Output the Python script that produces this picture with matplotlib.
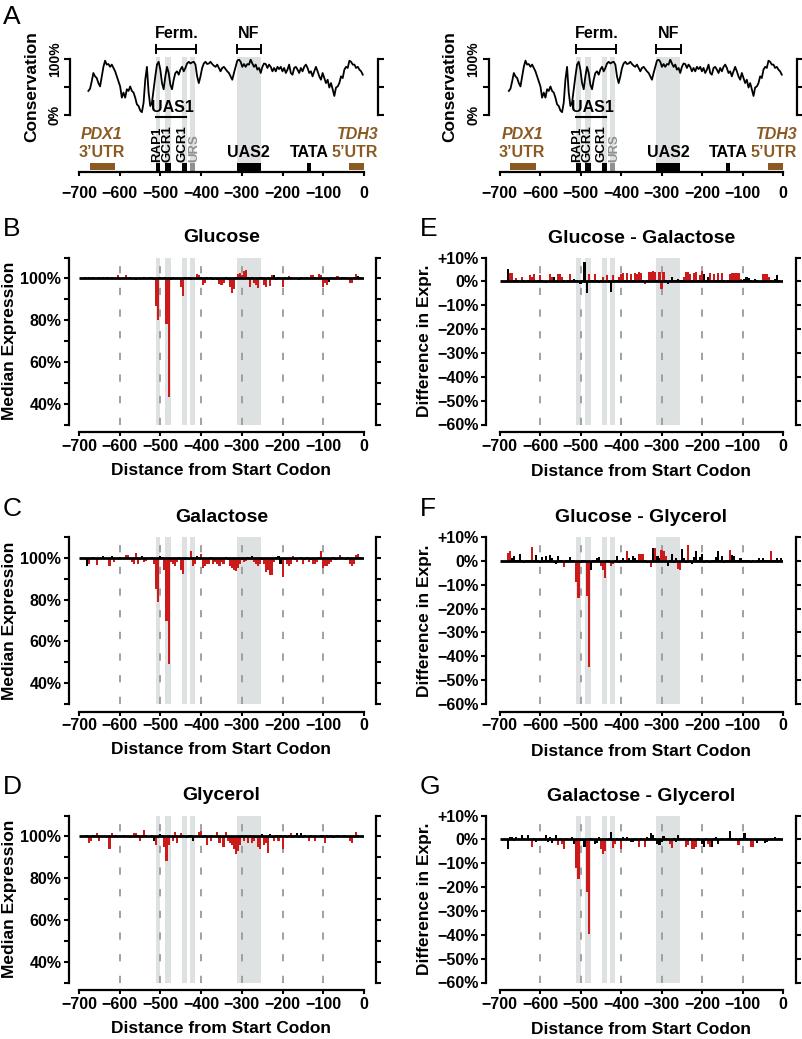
"""
Promoter conservation and mutational scan of expression (panels A-G)
"""
import numpy as np
import matplotlib
matplotlib.use("Agg")
import matplotlib.pyplot as plt
from matplotlib.patches import Rectangle

plt.rcParams['font.family'] = ['Liberation Sans', 'DejaVu Sans']
plt.rcParams['font.weight'] = 'bold'

W, H = 802, 1039
RED = '#cc1a1a'
SHADE = '#dde1e1'
BROWN = '#8b5a22'
URS_GREY = '#8f9090'

# ---------------- data ----------------
positions = np.arange(-700, 0, 5)   # 5 bp windows, -700 ... -5

# % deviation from wild-type median expression (B-D)
glucose = [
    0, 0, 0, 0.5, 0, 0.6, 0, 0.5, 0, 0.4,
    0.5, 0, 0.7, 0, 0.5, 0, 0.6, -0.4, 0, 1.4,
    0, 0.3, 0, 1.5, 0, 0.5, 0, 0.4, -1.0, 0.3,
    0.4, 0, 0.5, 0.3, 0, 0.5, 0.6, -1.0, -13, -20,
    0.8, 0, 0.5, -22, -57, -1.0, 0.5, 0, -0.5, 0.4,
    -4, -8.5, 0.6, 0, 0.5, -0.8, 0.4, 0, 2.3, 1.5,
    0.5, -3.4, -2, 0.5, -0.5, 0.5, -0.8, 0.4, -1, -2.5,
    -3, -2, 0.5, -1, -4, -7, -5, 0.8, 2, 2.5,
    1.5, 3.5, 4, 0.5, -4, 0.6, -2, -3, -4.5, 0.5,
    0.5, -3, -4, 0.5, -3.5, 1.5, 1.5, -1, 0.5, 0.3,
    -4, 0.5, 0, 1, 0.5, 0, 0.4, 0, -1, 0.5,
    0.4, 0, 0.5, 0, 1.5, 1.5, 0.5, 0, 2, 1.5,
    -4, -2, -3, -1.5, 0.5, 0, 0.4, 1.2, 0, 0.5,
    0.5, 0.5, 0, -2, -2, 0.5, 2, 1, 0.6, 0,
]
glucose_sig = ("kkkkkkkkkk" "kkkkkkkkkr" "kkkrkkkkkk" "kkkkkkkkrr" "kkkrrkkkkk"
               "rrkkkkkkrr" "krrkkkkkkr" "rrkkrrrkrr" "rrrkrkrrrk" "krrkrrkkkk"
               "rkkrkkkkkk" "kkkkrrkkrr" "rrrkkkkrkk" "krkrrkrkkk")

galactose = [
    0, 0, 0, 0, -4, -3, 0, 0.5, 0, -3.5,
    0, 0, 1, 0, -0.5, -4, 1, -2, 0, -1,
    0.5, 0, -0.5, 1.5, 1.2, 0, -2, -3, 2.3, -3,
    -1, 1, -2, -1.5, 0, 0, 0.5, -3, -15, -21,
    1, 0.5, -6, -30, -51, -2, -3, -4, -2, 0.5,
    -6, -7.5, -1, 0, -1, 3.5, -4, -3, 1, 0.5,
    2, -5, -4, -3, -3, 0.5, -3, -2, -3, -4,
    -2, -3, 0.3, -1, -4, -5, -6, -6.5, -5, -3,
    -1, -2, -1.5, 0.5, -1, 1, -2, -3, -4, -3,
    -1, -3, -7, -6, -8, -8, -2, 0.5, 1, -3,
    -9, -1, -3, -4, -3, 1, -1, -2, -0.5, 0.5,
    -3, -1, 0.5, -2, -1, -3, -3, -2, 0.5, 3.5,
    -5, -4, -4, -3, -2, 0.5, -1, 0, 1.5, 0.5,
    0, -1, 0.5, -3, -4, -3, 1.5, 2, 0.5, 0,
]
galactose_sig = ("kkkkkrkkkr" "kkkkkrkrkr" "kkkrrkrrrr" "rkrrkkkrrr" "kkrrrrrrrk"
                 "rrkkkrrrkk" "rrrrrkrrrr" "rrkkrrrrrr" "krrkrkrrrr" "krrrrrrkkk"
                 "rkrrrrkrkk" "rkkrkrrrkr" "rrrrrkkkrk" "kkkrrrrrkk")

glycerol = [
    0, 0, 0, 0.4, 0.5, -3, -2, 0.5, 0, 1.5,
    -2, 0, 0.3, 0, 0, -6, 1.5, 0, 0.5, 0,
    0.3, 0, 0.5, 0, 0, -1, 0.4, 1.5, 1.5, 0.5,
    -2, 0, 3, 0.5, 0, 0, 0.5, -2, -4, -1,
    1, 0.5, -5, -12, -4, 0, -2, 2, -3, 0.3,
    1.5, 0.5, 0.3, -1, 0.5, 0.5, -2, 0.3, 0, 2,
    2.5, -1, 0.5, -4, 0.3, -2, 0.3, 0, 2, -3,
    -1, -5, 2, -2, -3, -4, -6, -8.3, -7, -4,
    0.5, -2, 0.5, -3, 0.5, -3, -2, -1, -5, -6,
    1, -4, -3, -8, 1, -1, -2, 0.5, -2, 0.5,
    -6, 0.5, -1, 0.5, 1.5, -1, 0.5, 1.5, -1, 1.5,
    -1, 0.5, 0, -2, 0.5, 0, -2, 0.4, 0, 0.5,
    0.5, -3, 0.5, 0, 0.5, -1, 0, 0.5, 0, 0,
    0.5, 0, 0, -2, -3, 0.3, 2, 0.5, 0.3, 0,
]
glycerol_sig = ("kkkkkrrkkr" "rkkkkrrkkk" "kkkkkkkrrk" "rkrkkkkkrk" "kkrrrkrrrk"
                "rkkkkkkkkr" "rkkrkrkkrr" "krrrrrrrrr" "krkrkrrkrr" "krrrkkrkrk"
                "rkkkrkkkkk" "kkkrkkrkkk" "krkkkkkkkk" "kkkrrkrkkk")

# differences in expression between conditions (E-G)
glc_minus_gal = [
    0, 0, 0, 0, 5, 3.5, 3.5, 0.5, 1.5, 0.5,
    0.3, 2, 0.5, 0, 0.5, 2.5, 2, 3, 0.3, 0.5,
    2.5, 0.5, 0.3, -0.5, 0.3, 3, 2, 2, 0.3, 3,
    3, 2, 0.5, 0.3, 0.5, 3, 0.5, 1, 0.5, 0.3,
    -1, 0.5, 8, -5, 3, 0.5, 0.5, 3, 0.5, -0.5,
    0.5, 2, 0.3, 2.5, 0.5, -4.5, 2.5, 0.5, 0.5, 2,
    3, 3.5, 0.5, 3.5, 0.5, 3, 0.5, 3.5, 3, 4,
    3.5, 0.5, -1, 0.5, 4, 4, 4.5, 4, 0.5, 4,
    -3, 4, 0.5, -1, 0.5, 2, 0.5, 0.5, 1, 0.5,
    0.5, 2, 4, 4, 3, 0.5, 3.5, 4, 0.5, 2.5,
    4.5, 3, 0.5, 2, 3.5, 0.5, 3, 0.5, 3.5, 0.5,
    3.5, 0.5, 0.3, 0.5, 3, 3.5, 3.5, 3.5, 3.5, 1,
    0.5, 1, 2, 1.5, 0.5, 0.3, 1, 0.5, 0.3, 0,
    3, 3, 3, 2, 0.5, 0.3, 1, 2.5, 0.5, 0.3,
]
glc_minus_gal_sig = ("kkkkkrrkrk" "krkkkrrrkk" "rkkkkrrkkr" "rrkkkrkkkk" "kkkkrkkrkk"
                     "krkrkkrkkr" "rrkrkrkrrr" "rkrkrrrrkr" "rrkkkkkkkk" "krrrrkrrkr"
                     "rkkkrkrkrk" "rkkkrrrrrr" "kkkkkkkkkk" "rrrrkkkkkk")

glc_minus_gly = [
    0, 0, 0, 0, 3.5, 4.2, 1, 2, 0.5, 0.3,
    3, 0.5, -1, 0.5, 0.3, 0.5, 5.6, 0.5, 2.5, 0.5,
    -1, 1.5, 0.3, 2, 0.5, 2.5, 1, -1, -1.5, 2,
    0.5, 0.3, -2.5, 0.5, 0.3, 1.5, 0.3, 0.5, -9, -15.4,
    -1, 0.5, 0.3, -14.7, -44.5, -3.8, 0.5, 0.3, 1, 1.5,
    -2, -4, -7, 0.3, 0.5, -2, -1.5, 0.3, 2, -1,
    0.5, 1, 0.3, 4, 1, 0.5, 2, 1, 0.5, 3,
    3, 3, 0.5, -1, -1, -2.5, 5.2, 5.5, 2, 1,
    4.5, 4, 2, -2, 0.5, 3, -1, 1, -3.5, -4,
    5, 1, -1, 6.5, 0.5, -1.5, 1.5, 4, 0.5, 1.5,
    3, -1, 0.5, 0.3, -1, 0.5, 0.3, 1.5, 4, 0.5,
    2, -1, 0.5, 0.3, 4.5, 2.5, 2, 0.5, 0.3, 1,
    0.3, 0.5, 0.3, 0.3, -1, 0.3, 0, 0.5, 1, 0.5,
    1, 0.3, 0.5, 0.3, 4, 0.3, 0.5, 1, 0.5, 1,
]
glc_minus_gly_sig = ("kkkkrrkkkk" "kkkkkkrkkk" "kkkkkkkkkk" "kkrkkkkkrr" "kkkrrkkkkk"
                     "rrrkkrrkkk" "kkkrkkkkkr" "rrkkrrkrkk" "rrrkkkkkrr" "kkkrkkkkkk"
                     "kkkkkkkkkk" "kkkkrkkkkk" "kkkkkkkkkk" "kkkkrkkkkk")

gal_minus_gly = [
    0, 0, 0, 0, -4, 1, 1, -0.5, 1, 0.3,
    0.3, 2, 0.5, 0.3, 1.8, 0.3, -3, 0.5, -1, 0.3,
    0.5, 0.3, 0.5, 2, -1, 1, -1.5, 0.3, 2, -2.5,
    0.5, -2, -4, 0.5, 0.3, 0.3, 1, -2, -11.8, -16.8,
    -0.5, 0.3, -3, -22, -39.5, 0.5, 0.3, -2, -1.5, 1,
    -4, -6, -5, 0.3, 0.5, 3, -3.5, -2, 0.5, 0.3,
    -4, 1, 0.3, 1, 0.3, -1, -1, 0.5, 0.3, -3,
    0.5, 0.3, -3, 1, 0.5, 2.5, 2, 0.5, -2, -2.5,
    -1, 1.5, 0.5, 0.3, -2, -3.5, 0.5, -1, 2, 0.5,
    0.3, 0.5, -3, -2.5, 0.5, -4, -4, -3, 0.5, 0.3,
    -2, -3, 0.5, -2, -3, -3, 0.5, 1, -2, 0.3,
    0.5, 0.3, 0.3, 0.5, 3.5, 0.5, 0.3, 0.5, -2.5, 0.5,
    0.5, 2.5, 0.5, 0.3, -3, -3, 0.3, -1.5, 0.3, 0.3,
    0.3, -1.5, -1, 0.3, 0.5, 0.3, 1, 0.3, 0.5, 0,
]
gal_minus_gly_sig = ("kkkkkkkkkk" "kkkkkkrkkk" "kkkkkkkkkr" "krrkkkkkrr" "kkkrrkkkkk"
                     "rrrkkkrrkk" "rkkkkkkkkr" "kkrkkkkkkk" "kkkkrrkkkk" "kkrrkrrrkk"
                     "kkkrrkkkkk" "kkkkkkkkrk" "kkkkrrkkkk" "kkkkkkkkkk")

# sequence conservation (%) along the promoter
conservation = [
    43, 47, 60, 75, 69, 66, 57, 51, 69, 86, 97, 90, 91, 86, 90, 84, 78, 69, 60, 51,
    31, 40, 31, 46, 43, 51, 43, 40, 31, 19, 16, 8, 5, 22, 63, 86, 40, 16, 22, 46,
    69, 90, 95, 81, 57, 46, 69, 86, 75, 54, 46, 63, 75, 78, 72, 81, 86, 78, 84, 92,
    95, 92, 94, 95, 90, 69, 57, 69, 84, 92, 95, 91, 92, 95, 91, 88, 86, 90, 84, 78,
    84, 86, 82, 78, 75, 69, 63, 75, 86, 97, 99, 95, 86, 91, 86, 91, 90, 99, 92, 86,
    90, 81, 84, 75, 86, 92, 91, 84, 90, 86, 78, 84, 78, 86, 82, 86, 78, 84, 75, 81,
    90, 75, 72, 84, 86, 81, 75, 84, 78, 86, 90, 84, 75, 78, 69, 78, 86, 78, 69, 63,
    75, 66, 57, 63, 49, 57, 46, 34, 49, 51, 57, 69, 66, 81, 86, 84, 97, 95, 90, 90,
    84, 86, 81, 78, 72,
]
cons_pos = np.linspace(-677, -3, len(conservation))

# binding sites / regions
site_names = ['RAP1', 'GCR1', 'GCR1', 'URS']
site_start = [-512, -488, -448, -428]
site_end = [-500, -475, -435, -416]
label_x = [-509, -482, -447, -417]
uas2_start, uas2_end = -313, -254
tata_start, tata_end = -141, -131
pdx1_start, pdx1_end = -673, -611
tdh3_start, tdh3_end = -38, 0
ferm_range = (-510, -412)
nf_range = (-313, -252)
uas1_range = (-510, -438)


def add_axes(x0, x1, y0, y1):
    return fig.add_axes([x0 / W, 1 - y1 / H, (x1 - x0) / W, (y1 - y0) / H])


def fy(px):
    return 1 - px / H


def all_shades():
    return list(zip(site_start + [uas2_start], site_end + [uas2_end]))


def conservation_panel(x0, x1, lo, ro, ylab_x):
    ann = add_axes(x0, x1, 25, 172)
    ann.set_xlim(-700, 0)
    ann.set_ylim(0, 147)
    ann.patch.set_visible(False)
    for s in ('left', 'right', 'top'):
        ann.spines[s].set_visible(False)
    ann.spines['bottom'].set_bounds(-700, 0)
    ann.spines['bottom'].set_linewidth(1.6)
    ann.set_yticks([])
    ann.set_xticks(range(-700, 1, 100))
    ann.tick_params(axis='x', length=3, width=1.5, labelsize=11.5, pad=7)

    for s, e in all_shades():
        ann.add_patch(Rectangle((s, 0), e - s, 115, color=SHADE, lw=0, zorder=0))

    # element boxes on the axis
    for s, e in zip(site_start[:3], site_end[:3]):
        ann.add_patch(Rectangle((s, 0), e - s, 9.5, color='black', lw=0, zorder=2))
    ann.add_patch(Rectangle((site_start[3], 0), site_end[3] - site_start[3], 9.5,
                            color=URS_GREY, lw=0, zorder=2))
    ann.add_patch(Rectangle((uas2_start, 0), uas2_end - uas2_start, 9.5, color='black', lw=0, zorder=2))
    ann.add_patch(Rectangle((tata_start, 0), tata_end - tata_start, 9.5, color='black', lw=0, zorder=2))
    ann.add_patch(Rectangle((pdx1_start, 2), pdx1_end - pdx1_start, 7.5, color=BROWN, lw=0, zorder=2))
    ann.add_patch(Rectangle((tdh3_start, 2), tdh3_end - tdh3_start, 7.5, color=BROWN, lw=0, zorder=2))

    for name, xc in zip(site_names, label_x):
        col = URS_GREY if name == 'URS' else 'black'
        ann.text(xc, 10.5, name, rotation=90, ha='center', va='bottom',
                 fontsize=9.5, color=col, zorder=3)
    ann.text(-470, 64.5, 'UAS1', ha='center', va='center', fontsize=11.5)
    ann.plot(uas1_range, [55, 55], color='black', lw=1.5)
    ann.text(-644, 38, 'PDX1', ha='center', va='center', fontsize=11.5, color=BROWN, style='italic')
    ann.text(-644, 20, '3\u2019UTR', ha='center', va='center', fontsize=11.5, color=BROWN)
    ann.text(-16, 38, 'TDH3', ha='center', va='center', fontsize=11.5, color=BROWN, style='italic')
    ann.text(-24, 20, '5\u2019UTR', ha='center', va='center', fontsize=11.5, color=BROWN)
    ann.text(-284, 20, 'UAS2', ha='center', va='center', fontsize=11.5)
    ann.text(-135, 20, 'TATA', ha='center', va='center', fontsize=11.5)

    for (a, b), lab in ((ferm_range, 'Ferm.'), (nf_range, 'NF')):
        ann.plot([a, b], [123, 123], color='black', lw=1.4)
        ann.plot([a, a], [119, 127], color='black', lw=1.4)
        ann.plot([b, b], [119, 127], color='black', lw=1.4)
        ann.text((a + b) / 2, 138, lab, ha='center', va='center', fontsize=11.5)

    cons = add_axes(x0, x1, 59, 115)
    cons.set_xlim(-700, 0)
    cons.set_ylim(0, 100)
    cons.patch.set_visible(False)
    cons.plot(cons_pos, conservation, color='black', lw=1.3, zorder=3)
    cons.spines['top'].set_visible(False)
    cons.spines['bottom'].set_visible(False)
    cons.spines['left'].set_position(('outward', lo * 0.72))
    cons.spines['right'].set_position(('outward', ro * 0.72))
    for s in ('left', 'right'):
        cons.spines[s].set_linewidth(1.6)
    cons.set_xticks([])
    cons.set_yticks([0, 50, 100])
    cons.set_yticklabels(['0%', '', '100%'], rotation=90, va='center')
    cons.tick_params(axis='y', direction='out', length=4, width=1.5, right=True,
                     labelsize=10, pad=2)
    fig.text(ylab_x / W, fy(87), 'Conservation', rotation=90, ha='center', va='center', fontsize=12.5)


def expression_panel(x0, x1, y0, y1, vals, sig, base, ylim, major, labels, minor, lo, ro):
    ax = add_axes(x0, x1, y0, y1)
    ax.set_xlim(-700, 0)
    ax.set_ylim(*ylim)
    ax.patch.set_visible(False)
    for s, e in all_shades():
        ax.axvspan(s, e, color=SHADE, lw=0, zorder=0)
    for x in range(-600, 0, 100):
        ax.axvline(x, color='#9a9a9a', lw=1.3, ls=(0, (4, 8)), zorder=1)
    colors = [RED if c == 'r' else 'black' for c in sig]
    ax.bar(positions, vals, width=5.2, bottom=base, color=colors, linewidth=0, zorder=2)
    ax.plot([-700, 0], [base, base], color='black', lw=2, zorder=3, solid_capstyle='butt')

    ax.spines['top'].set_visible(False)
    ax.spines['left'].set_position(('outward', lo * 0.72))
    ax.spines['right'].set_position(('outward', ro * 0.72))
    ax.spines['bottom'].set_position(('outward', 7.5 * 0.72))
    ax.spines['bottom'].set_bounds(-700, 0)
    for sp in ax.spines.values():
        sp.set_linewidth(1.6)
    ax.set_yticks(major)
    ax.set_yticklabels(labels)
    ax.set_yticks(minor, minor=True)
    ax.tick_params(axis='y', which='both', direction='out', length=3.5, width=1.5,
                   right=True, labelsize=11.5, pad=2)
    ax.set_xticks(range(-700, 1, 100))
    ax.tick_params(axis='x', length=3, width=1.5, labelsize=11.5, pad=2)
    return ax


fig = plt.figure(figsize=(W / 100, H / 100), dpi=100)

LEFT = (79, 364)
RIGHT = (499.5, 783)

conservation_panel(*LEFT, lo=9, ro=14, ylab_x=32)
conservation_panel(*RIGHT, lo=11, ro=14, ylab_x=450)

rows = [(257.5, 424.5), (537, 704), (815.5, 982.5)]
left_panels = [('B', 'Glucose', glucose, glucose_sig),
               ('C', 'Galactose', galactose, galactose_sig),
               ('D', 'Glycerol', glycerol, glycerol_sig)]
right_panels = [('E', 'Glucose - Galactose', glc_minus_gal, glc_minus_gal_sig),
                ('F', 'Glucose - Glycerol', glc_minus_gly, glc_minus_gly_sig),
                ('G', 'Galactose - Glycerol', gal_minus_gly, gal_minus_gly_sig)]

for (y0, y1), (letter, title, vals, sig) in zip(rows, left_panels):
    expression_panel(*LEFT, y0, y1, vals, sig, 100, (30, 110),
                     [40, 60, 80, 100], ['40%', '60%', '80%', '100%'],
                     [30, 50, 70, 90, 110], lo=10, ro=11.5)
    fig.text(sum(LEFT) / 2 / W, fy(y0 - 20), title, ha='center', va='center', fontsize=14)
    fig.text(3 / W, fy(y0 - 28), letter, ha='left', va='center', fontsize=19, fontweight='normal')
    fig.text(10 / W, fy((y0 + y1) / 2), 'Median Expression', rotation=90,
             ha='center', va='center', fontsize=12.5)
    fig.text(sum(LEFT) / 2 / W, fy(y1 + 46), 'Distance from Start Codon',
             ha='center', va='center', fontsize=12.5)

diff_ticks = list(range(-60, 11, 10))
diff_labels = ['+10%' if t > 0 else ('0%' if t == 0 else '\u2212%d%%' % -t) for t in diff_ticks]
for (y0, y1), (letter, title, vals, sig) in zip(rows, right_panels):
    expression_panel(*RIGHT, y0, y1, vals, sig, 0, (-60, 10),
                     diff_ticks, diff_labels, [], lo=13.5, ro=12.5)
    fig.text(sum(RIGHT) / 2 / W, fy(y0 - 19), title, ha='center', va='center', fontsize=14)
    fig.text(420 / W, fy(y0 - 28), letter, ha='left', va='center', fontsize=19, fontweight='normal')
    fig.text(424 / W, fy((y0 + y1) / 2), 'Difference in Expr.', rotation=90,
             ha='center', va='center', fontsize=12.5)
    fig.text(sum(RIGHT) / 2 / W, fy(y1 + 47), 'Distance from Start Codon',
             ha='center', va='center', fontsize=12.5)

fig.text(3 / W, fy(17), 'A', ha='left', va='center', fontsize=19, fontweight='normal')

fig.savefig('out.png', dpi=100)
